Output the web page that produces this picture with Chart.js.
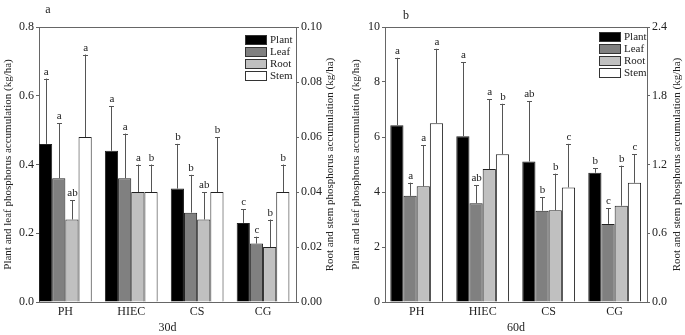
<!DOCTYPE html>
<html>
<head>
<meta charset="utf-8">
<script src="https://cdn.jsdelivr.net/npm/chart.js@4.4.1/dist/chart.umd.min.js"></script>
<style>
    body { margin: 0; background: #fff; }
    .wrap { position: relative; width: 685px; height: 335px; }
    .panel { position: absolute; top: 0; }
    #p30 { left: 0; }
    #p60 { left: 342px; }
</style>
</head>
<body>
<div class="wrap">
    <div class="panel" id="p30"><canvas id="chart30" width="342" height="335"></canvas></div>
    <div class="panel" id="p60"><canvas id="chart60" width="343" height="335"></canvas></div>
</div>
<script>
// Categories and series
const categories = ['PH', 'HIEC', 'CS', 'CG'];
const seriesNames = ['Plant', 'Leaf', 'Root', 'Stem'];
const seriesColors = ['#000000', '#808080', '#c0c0c0', '#ffffff'];

// 30d (plant & leaf on left axis, root & stem on right axis)
const plant30 = [0.46, 0.44, 0.33, 0.23];
const leaf30 = [0.36, 0.36, 0.26, 0.17];
const root30 = [0.030, 0.040, 0.030, 0.020];
const stem30 = [0.060, 0.040, 0.040, 0.040];
const plant30Sd = [0.19, 0.13, 0.13, 0.04];
const leaf30Sd = [0.16, 0.13, 0.11, 0.02];
const root30Sd = [0.007, 0.010, 0.010, 0.010];
const stem30Sd = [0.030, 0.010, 0.020, 0.010];
const plant30Sig = ['a', 'a', 'b', 'c'];
const leaf30Sig = ['a', 'a', 'b', 'c'];
const root30Sig = ['ab', 'a', 'ab', 'b'];
const stem30Sig = ['a', 'b', 'b', 'b'];
const left30Ticks = [0, 0.8, 0.2];
const right30Ticks = [0, 0.10, 0.02];

// 60d
const plant60 = [6.43, 6.03, 5.11, 4.70];
const leaf60 = [3.86, 3.59, 3.32, 2.84];
const root60 = [1.01, 1.16, 0.80, 0.84];
const stem60 = [1.56, 1.29, 1.00, 1.04];
const plant60Sd = [2.45, 2.69, 2.20, 0.16];
const leaf60Sd = [0.48, 0.66, 0.49, 0.57];
const root60Sd = [0.36, 0.61, 0.32, 0.35];
const stem60Sd = [0.65, 0.44, 0.38, 0.25];
const plant60Sig = ['a', 'a', 'ab', 'b'];
const leaf60Sig = ['a', 'ab', 'b', 'c'];
const root60Sig = ['a', 'a', 'b', 'b'];
const stem60Sig = ['a', 'b', 'c', 'c'];
const left60Ticks = [0, 10, 2];
const right60Ticks = [0, 2.4, 0.6];

const serif = "'Liberation Serif', 'Times New Roman', serif";
const axisColor = '#666';
const textColor = '#222';

// error bars + significance letters
const errorBarsPlugin = {
    id: 'errorBars',
    afterDatasetsDraw(chart) {
        const ctx = chart.ctx;
        ctx.save();
        chart.data.datasets.forEach((ds, i) => {
            const meta = chart.getDatasetMeta(i);
            const scale = chart.scales[ds.yAxisID];
            meta.data.forEach((bar, j) => {
                const top = scale.getPixelForValue(ds.data[j] + ds.sd[j]);
                ctx.strokeStyle = '#555';
                ctx.lineWidth = 1;
                ctx.beginPath();
                ctx.moveTo(Math.round(bar.x) + 0.5, bar.y);
                ctx.lineTo(Math.round(bar.x) + 0.5, top);
                ctx.moveTo(Math.round(bar.x) - 2, Math.round(top) + 0.5);
                ctx.lineTo(Math.round(bar.x) + 3, Math.round(top) + 0.5);
                ctx.stroke();
                ctx.fillStyle = textColor;
                ctx.font = '11px ' + serif;
                ctx.textAlign = 'center';
                ctx.textBaseline = 'alphabetic';
                ctx.fillText(ds.sig[j], bar.x + 0.5, top - 4);
            });
        });
        ctx.restore();
    }
};

// frame top line, legend, titles
const decorPlugin = {
    id: 'decor',
    afterDraw(chart, args, opts) {
        const ctx = chart.ctx;
        const a = chart.chartArea;
        ctx.save();
        ctx.strokeStyle = axisColor;
        ctx.lineWidth = 1;
        ctx.beginPath();
        ctx.moveTo(a.left, Math.round(a.top) + 0.5);
        ctx.lineTo(a.right, Math.round(a.top) + 0.5);
        ctx.stroke();

        // legend
        const lx = a.right - opts.legendRight;
        chart.data.datasets.forEach((ds, i) => {
            const y = opts.legendTop + i * 12;
            ctx.fillStyle = ds.backgroundColor;
            ctx.fillRect(lx, y, 22, 10);
            ctx.strokeStyle = '#333';
            ctx.strokeRect(lx + 0.5, y + 0.5, 21, 9);
            ctx.fillStyle = textColor;
            ctx.font = '11px ' + serif;
            ctx.textAlign = 'left';
            ctx.textBaseline = 'middle';
            ctx.fillText(ds.label, lx + 25, y + 5.5);
        });

        // axis titles
        const midY = (a.top + a.bottom) / 2;
        ctx.font = '11px ' + serif;
        ctx.fillStyle = textColor;
        ctx.textAlign = 'center';
        ctx.textBaseline = 'middle';
        [[opts.leftTitleX, opts.leftTitle], [opts.rightTitleX, opts.rightTitle]].forEach(([x, t]) => {
            ctx.save();
            ctx.translate(x, midY);
            ctx.rotate(-Math.PI / 2);
            ctx.fillText(t, 0, 0);
            ctx.restore();
        });
        ctx.font = '12px ' + serif;
        ctx.fillText(opts.xTitle, (a.left + a.right) / 2, 328);
        ctx.fillText(opts.panel, opts.panelX, opts.panelY);
        ctx.restore();
    }
};

function makePanel(id, p) {
    const tickFont = { family: serif, size: 12 };
    const yAxis = (ticks, fmt, pos, w) => ({
        type: 'linear',
        position: pos,
        min: ticks[0],
        max: ticks[1],
        grid: { drawOnChartArea: false, color: axisColor, tickLength: 3 },
        border: { color: axisColor },
        ticks: { stepSize: ticks[2], color: textColor, font: tickFont, padding: 2,
                 callback: v => v.toFixed(fmt) },
        afterFit: s => { s.width = w; }
    });
    const ds = (i, data, sd, sig, axis) => ({
        label: seriesNames[i],
        data: data,
        sd: sd,
        sig: sig,
        yAxisID: axis,
        backgroundColor: seriesColors[i],
        borderColor: '#222',
        borderWidth: 1,
        categoryPercentage: 0.8,
        barPercentage: 1.0
    });
    return new Chart(document.getElementById(id), {
        type: 'bar',
        data: {
            labels: categories.map((c, i) => i),
            datasets: [
                ds(0, p.plant, p.plantSd, p.plantSig, 'y'),
                ds(1, p.leaf, p.leafSd, p.leafSig, 'y'),
                ds(2, p.root, p.rootSd, p.rootSig, 'y1'),
                ds(3, p.stem, p.stemSd, p.stemSig, 'y1')
            ]
        },
        options: {
            responsive: false,
            animation: false,
            layout: { padding: { top: 27, left: 0, right: 0, bottom: 0 } },
            plugins: {
                legend: { display: false },
                tooltip: { enabled: false },
                decor: p.decor
            },
            scales: {
                x: {
                    type: 'linear',
                    bounds: 'data',
                    offset: false,
                    min: p.xRange[0],
                    max: p.xRange[1],
                    grid: { drawOnChartArea: false, drawTicks: false, offset: false },
                    border: { color: axisColor },
                    ticks: { autoSkip: false, maxRotation: 0,
                             color: textColor, font: tickFont, padding: 3,
                             callback: v => categories[v] },
                    afterBuildTicks: s => { s.ticks = categories.map((c, i) => ({ value: i })); },
                    afterFit: s => { s.height = 33; }
                },
                y: yAxis(p.leftTicks, p.leftFmt, 'left', p.leftW),
                y1: yAxis(p.rightTicks, p.rightFmt, 'right', p.rightW)
            }
        },
        plugins: [errorBarsPlugin, decorPlugin]
    });
}

makePanel('chart30', {
    plant: plant30, leaf: leaf30, root: root30, stem: stem30,
    plantSd: plant30Sd, leafSd: leaf30Sd, rootSd: root30Sd, stemSd: stem30Sd,
    plantSig: plant30Sig, leafSig: leaf30Sig, rootSig: root30Sig, stemSig: stem30Sig,
    leftTicks: left30Ticks, rightTicks: right30Ticks, leftFmt: 1, rightFmt: 2,
    leftW: 39, rightW: 46, xRange: [-0.40, 3.50],
    decor: {
        legendRight: 51, legendTop: 35,
        leftTitle: 'Plant and leaf phosphorus accumulation (kg/ha)', leftTitleX: 8,
        rightTitle: 'Root and stem phosphorus accumulation (kg/ha)', rightTitleX: 330,
        xTitle: '30d', panel: 'a', panelX: 48, panelY: 10
    }
});

makePanel('chart60', {
    plant: plant60, leaf: leaf60, root: root60, stem: stem60,
    plantSd: plant60Sd, leafSd: leaf60Sd, rootSd: root60Sd, stemSd: stem60Sd,
    plantSig: plant60Sig, leafSig: leaf60Sig, rootSig: root60Sig, stemSig: stem60Sig,
    leftTicks: left60Ticks, rightTicks: right60Ticks, leftFmt: 0, rightFmt: 1,
    leftW: 43, rightW: 38, xRange: [-0.48, 3.49],
    decor: {
        legendRight: 48, legendTop: 32,
        leftTitle: 'Plant and leaf phosphorus accumulation (kg/ha)', leftTitleX: 14,
        rightTitle: 'Root and stem phosphorus accumulation (kg/ha)', rightTitleX: 335,
        xTitle: '60d', panel: 'b', panelX: 64, panelY: 16
    }
});
</script>
</body>
</html>
